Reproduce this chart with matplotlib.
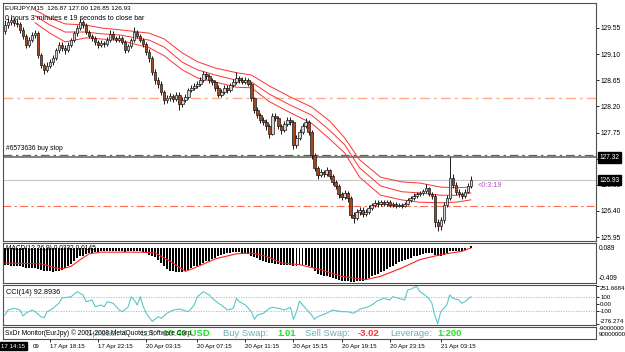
import matplotlib
matplotlib.use("Agg")
import matplotlib.pyplot as plt

plt.rcParams["font.family"] = ["Liberation Sans", "DejaVu Sans"]

W, H = 625, 352

# --- EURJPY M15 candles ---
first_open = 129.50
closes = [129.60, 129.65, 129.69, 129.64, 129.62, 129.52, 129.41, 129.26, 129.34, 129.43,
          129.46, 129.09, 128.91, 128.83, 128.90, 128.96, 129.03, 129.17, 129.26, 129.21,
          129.17, 129.26, 129.34, 129.46, 129.55, 129.65, 129.60, 129.48, 129.41, 129.38,
          129.31, 129.26, 129.29, 129.27, 129.34, 129.45, 129.38, 129.34, 129.38, 129.31,
          129.17, 129.24, 129.34, 129.48, 129.41, 129.34, 129.27, 129.14, 129.03, 128.79,
          128.65, 128.59, 128.45, 128.31, 128.34, 128.38, 128.33, 128.40, 128.24, 128.31,
          128.36, 128.48, 128.52, 128.55, 128.59, 128.65, 128.76, 128.72, 128.65, 128.62,
          128.52, 128.40, 128.45, 128.52, 128.48, 128.57, 128.62, 128.69, 128.65, 128.62,
          128.65, 128.59, 128.34, 128.14, 128.05, 127.97, 127.93, 127.86, 127.72, 128.03,
          128.00, 127.86, 127.79, 127.90, 127.97, 127.93, 127.54, 127.66, 127.76, 127.86,
          127.93, 127.76, 127.36, 127.14, 127.02, 127.07, 127.04, 127.10, 127.00, 126.90,
          126.83, 126.69, 126.64, 126.71, 126.62, 126.33, 126.28, 126.38, 126.42, 126.35,
          126.38, 126.45, 126.50, 126.54, 126.52, 126.55, 126.52, 126.55, 126.50, 126.52,
          126.48, 126.50, 126.48, 126.52, 126.59, 126.62, 126.66, 126.69, 126.71, 126.74,
          126.79, 126.69, 126.66, 126.21, 126.14, 126.24, 126.50, 126.62, 126.97, 126.85,
          126.73, 126.69, 126.66, 126.73, 126.83, 126.93]
highs = [129.68, 129.72, 129.74, 129.73, 129.70, 129.66, 129.56, 129.45, 129.39, 129.48,
         129.52, 129.50, 129.12, 128.95, 128.96, 129.02, 129.08, 129.21, 129.30, 129.31,
         129.25, 129.30, 129.38, 129.50, 129.60, 129.72, 129.69, 129.63, 129.52, 129.45,
         129.42, 129.35, 129.34, 129.33, 129.39, 129.52, 129.49, 129.42, 129.43, 129.41,
         129.34, 129.28, 129.38, 129.56, 129.52, 129.45, 129.38, 129.30, 129.18, 129.06,
         128.84, 128.70, 128.63, 128.49, 128.40, 128.43, 128.42, 128.45, 128.44, 128.36,
         128.41, 128.52, 128.56, 128.60, 128.64, 128.70, 128.81, 128.80, 128.76, 128.69,
         128.66, 128.56, 128.50, 128.56, 128.57, 128.61, 128.67, 128.80, 128.73, 128.70,
         128.71, 128.69, 128.62, 128.37, 128.19, 128.09, 128.02, 127.98, 127.90, 128.08,
         128.08, 128.04, 127.90, 127.95, 128.02, 128.01, 127.96, 127.71, 127.81, 127.91,
         128.00, 127.97, 127.79, 127.40, 127.18, 127.12, 127.11, 127.15, 127.13, 127.04,
         126.94, 126.87, 126.73, 126.76, 126.75, 126.65, 126.38, 126.43, 126.47, 126.46,
         126.43, 126.50, 126.54, 126.58, 126.58, 126.59, 126.59, 126.59, 126.58, 126.56,
         126.55, 126.53, 126.53, 126.55, 126.63, 126.66, 126.70, 126.73, 126.75, 126.78,
         126.86, 126.82, 126.73, 126.69, 126.26, 126.30, 126.55, 126.67, 127.32, 127.03,
         126.89, 126.77, 126.72, 126.78, 126.88, 127.00]
lows = [129.45, 129.55, 129.60, 129.58, 129.56, 129.47, 129.36, 129.20, 129.22, 129.30,
        129.38, 129.04, 128.86, 128.76, 128.79, 128.86, 128.92, 129.00, 129.12, 129.16,
        129.10, 129.13, 129.22, 129.31, 129.42, 129.52, 129.55, 129.44, 129.37, 129.33,
        129.26, 129.21, 129.22, 129.22, 129.24, 129.31, 129.34, 129.30, 129.31, 129.27,
        129.12, 129.14, 129.21, 129.31, 129.37, 129.30, 129.23, 129.09, 128.97, 128.74,
        128.58, 128.52, 128.39, 128.24, 128.26, 128.29, 128.27, 128.29, 128.14, 128.19,
        128.27, 128.33, 128.44, 128.48, 128.51, 128.55, 128.62, 128.67, 128.60, 128.57,
        128.46, 128.36, 128.37, 128.42, 128.43, 128.44, 128.53, 128.58, 128.60, 128.58,
        128.58, 128.55, 128.29, 128.08, 128.00, 127.92, 127.88, 127.80, 127.66, 127.70,
        127.95, 127.81, 127.73, 127.76, 127.87, 127.88, 127.46, 127.48, 127.62, 127.72,
        127.83, 127.70, 127.30, 127.08, 126.95, 126.98, 126.99, 127.00, 126.95, 126.85,
        126.78, 126.63, 126.58, 126.60, 126.56, 126.27, 126.20, 126.24, 126.33, 126.30,
        126.31, 126.34, 126.41, 126.46, 126.47, 126.48, 126.48, 126.49, 126.46, 126.47,
        126.45, 126.46, 126.45, 126.46, 126.50, 126.56, 126.59, 126.63, 126.66, 126.68,
        126.70, 126.65, 126.61, 126.12, 126.06, 126.08, 126.20, 126.46, 126.58, 126.80,
        126.68, 126.64, 126.61, 126.63, 126.70, 126.80]
opens = [first_open] + closes[:-1]

# moving average with its two envelope lines (sampled along the curve)
ma_idx = [10, 15, 20, 27, 32, 38, 48, 53, 59, 64, 70, 77, 82, 88, 95, 102, 108, 113,
          118, 125, 132, 138, 145, 150, 155]
ma_upper = [129.86, 129.72, 129.62, 129.60, 129.55, 129.52, 129.46, 129.36, 129.12, 128.97,
            128.86, 128.78, 128.74, 128.55, 128.36, 128.19, 127.95, 127.66, 127.28, 126.98,
            126.90, 126.88, 126.81, 126.80, 126.81]
ma_mid = [129.76, 129.60, 129.48, 129.48, 129.45, 129.43, 129.34, 129.22, 128.96, 128.83,
          128.74, 128.65, 128.62, 128.41, 128.22, 128.05, 127.79, 127.54, 127.14, 126.83,
          126.73, 126.71, 126.67, 126.67, 126.71]
ma_lower = [129.64, 129.46, 129.31, 129.38, 129.36, 129.34, 129.21, 129.07, 128.83, 128.69,
            128.62, 128.53, 128.52, 128.28, 128.09, 127.91, 127.64, 127.40, 126.98, 126.67,
            126.59, 126.55, 126.54, 126.55, 126.59]

# horizontal levels
level_orange = 128.34
level_buystop = 127.37
level_high = 127.32
level_bid = 126.93
level_red = 126.48

price_ticks = [129.55, 129.10, 128.65, 128.20, 127.75, 127.30, 126.85, 126.40, 125.95]

# MACD(12,26,9)
macd = [-0.20, -0.20, -0.21, -0.21, -0.22, -0.22, -0.23, -0.24, -0.24, -0.24,
        -0.24, -0.25, -0.26, -0.27, -0.27, -0.28, -0.29, -0.28, -0.27, -0.26,
        -0.24, -0.22, -0.19, -0.16, -0.12, -0.10, -0.09, -0.07, -0.06, -0.06,
        -0.05, -0.05, -0.04, -0.04, -0.04, -0.03, -0.04, -0.04, -0.04, -0.04,
        -0.05, -0.04, -0.03, -0.03, -0.04, -0.04, -0.05, -0.06, -0.08, -0.09,
        -0.11, -0.14, -0.18, -0.22, -0.25, -0.27, -0.28, -0.29, -0.29, -0.29,
        -0.28, -0.26, -0.24, -0.22, -0.21, -0.20, -0.18, -0.16, -0.15, -0.13,
        -0.12, -0.10, -0.08, -0.07, -0.06, -0.06, -0.05, -0.05, -0.05, -0.06,
        -0.06, -0.07, -0.09, -0.11, -0.12, -0.14, -0.15, -0.17, -0.18, -0.18,
        -0.19, -0.19, -0.20, -0.20, -0.20, -0.20, -0.21, -0.21, -0.20, -0.20,
        -0.20, -0.21, -0.24, -0.28, -0.31, -0.32, -0.33, -0.34, -0.35, -0.36,
        -0.37, -0.38, -0.39, -0.39, -0.40, -0.41, -0.41, -0.40, -0.40, -0.39,
        -0.37, -0.36, -0.34, -0.32, -0.31, -0.29, -0.27, -0.25, -0.23, -0.21,
        -0.19, -0.17, -0.16, -0.14, -0.13, -0.12, -0.10, -0.09, -0.08, -0.07,
        -0.06, -0.06, -0.06, -0.08, -0.09, -0.09, -0.08, -0.06, -0.04, -0.03,
        -0.03, -0.03, -0.03, -0.02, 0.00, 0.02]
sig_idx = [0, 12, 17, 19, 22, 25, 28, 32, 45, 50, 55, 60, 63, 70, 77, 82, 87, 92,
           98, 105, 112, 120, 125, 132, 138, 145, 152, 155]
signal = [-0.18, -0.19, -0.24, -0.25, -0.22, -0.14, -0.07, -0.05, -0.05, -0.06,
          -0.16, -0.28, -0.24, -0.13, -0.07, -0.06, -0.10, -0.18, -0.20, -0.26,
          -0.34, -0.38, -0.34, -0.24, -0.14, -0.08, -0.04, 0.00]

# CCI(14)
cci_idx = [0, 1, 3, 5, 6, 7, 9, 10, 12, 13, 14, 16, 18, 19, 22, 24, 26, 27, 29, 30,
           32, 33, 34, 36, 38, 39, 41, 42, 43, 44, 45, 46, 47, 49, 51, 52, 54, 56, 58, 61,
           63, 64, 66, 68, 69, 71, 72, 74, 76, 77, 78, 80, 82, 83, 84, 86, 88, 89, 91, 93,
           95, 96, 97, 98, 100, 102, 103, 104, 107, 109, 112, 114, 116, 118, 121, 122, 124, 126, 128, 129,
           131, 133, 134, 135, 137, 138, 139, 141, 142, 143, 144, 145, 147, 148, 149, 151, 152, 153, 155]
cci = [-154, -84, -60, -84, -168, -126, -84, -108, -178, -192, -108, -60, 14, 84, 102, 172, 126, 32, 56, -38,
       -14, -38, 32, 10, -84, -108, -38, 102, 56, -14, 102, -38, -126, -245, -178, -200, -126, -84, -70, -108,
       -14, 102, 172, 126, 80, 10, -14, -84, -60, 80, 32, -14, -108, -214, -154, -130, -60, -46, -60, -84,
       -46, -214, -108, 40, -60, -154, -214, -178, -130, -84, -108, -108, -130, -74, -38, -14, 46, 80, 56, 102,
       80, 56, 196, 206, 251, 172, 150, 80, 18, -154, -276, -108, -14, 126, 80, 56, 10, 32, 102]
cci_ticks = [251.6684, 100, 0, -100, -276.274]
cci_tick_labels = ["251.6684", "100", "0.00", "-100", "-276.274"]

time_idx = [15, 31, 47, 64, 80, 96, 112, 128, 145]
time_labels = ["17 Apr 18:15", "17 Apr 22:15", "20 Apr 03:15", "20 Apr 07:15", "20 Apr 11:15",
               "20 Apr 15:15", "20 Apr 19:15", "20 Apr 23:15", "21 Apr 03:15"]

XMIN, XMAX = -0.67, 196.67
SPINE = "#505050"


def rect(top, bottom, left=3, right=596):
    """pixel box -> figure fraction [l, b, w, h]"""
    return [left / W, 1 - bottom / H, (right - left) / W, (bottom - top) / H]


def fx(x):
    return x / W


def fy(y):
    return 1 - y / H


def style(ax, labelsize=4.8):
    for s in ax.spines.values():
        s.set_color(SPINE)
        s.set_linewidth(0.8)
    ax.set_xlim(XMIN, XMAX)
    ax.set_xticks([])
    ax.yaxis.tick_right()
    ax.tick_params(axis="y", length=2, width=0.6, pad=1, labelsize=labelsize, colors="black")


fig = plt.figure(figsize=(W / 100, H / 100), dpi=100)
fig.patch.set_facecolor("white")

# ---------------- main price panel ----------------
ax = fig.add_axes(rect(3, 241))
style(ax)
ax.set_ylim(125.882, 129.980)
ax.set_yticks(price_ticks)
ax.set_yticklabels([f"{v:.2f}" for v in price_ticks])

dash_dot = (0, (7, 3, 2, 3))
ax.axhline(level_orange, color="#ffaa88", lw=1.0, ls=dash_dot, zorder=1)
ax.axhline(level_red, color="#ff6a50", lw=0.8, ls=dash_dot, zorder=1)
ax.axhline(level_buystop, color="#119911", lw=0.9, ls=dash_dot, zorder=1)
ax.axhline(level_high, color="#808080", lw=1.4, zorder=1)
ax.axhline(level_bid, color="#c8c8c8", lw=0.8, zorder=1)

for series in (ma_upper, ma_mid, ma_lower):
    ax.plot(ma_idx, series, color="#ff3030", lw=0.7, zorder=2)

idx = list(range(len(closes)))
ax.vlines(idx, lows, highs, color="#181818", lw=0.7, zorder=3)
bottoms = [min(o, c) for o, c in zip(opens, closes)]
heights = [max(abs(c - o), 0.008) for o, c in zip(opens, closes)]
colors = ["#d4d4d4" if c >= o else "#a8471f" for o, c in zip(opens, closes)]
ax.bar(idx, heights, bottom=bottoms, width=0.8, color=colors, edgecolor="#181818",
       linewidth=0.5, zorder=4)

fig.text(fx(5), fy(8), "EURJPY,M15  126.87 127.00 126.85 126.93", fontsize=4.6, va="center")
fig.text(fx(5), fy(18), "0 hours 3 minutes e 19 seconds to close bar", fontsize=5.0, va="center")
fig.text(fx(6), fy(149), "#6573636 buy stop", fontsize=4.8, va="center")
ax.text(155 + 2.3, 126.84, "<0:3:19", fontsize=5.2, color="#b050c0", va="center")

for lvl, lab in ((level_high, "127.32"), (level_bid, "126.93")):
    ax.annotate(lab, xy=(1, lvl), xycoords=("axes fraction", "data"), xytext=(2.5, 0),
                textcoords="offset points", fontsize=4.8, color="white", va="center",
                bbox=dict(boxstyle="square,pad=0.25", fc="black", ec="black"),
                annotation_clip=False, zorder=10)

# ---------------- MACD panel ----------------
axm = fig.add_axes(rect(243, 283))
style(axm)
axm.set_ylim(-0.42, 0.06)
axm.set_yticks([])
axm.text(0.005, 0.86, "MACD(12,26,9) 0.0332 0.0145", transform=axm.transAxes,
         fontsize=4.8, va="center", zorder=0)
axm.bar(idx, macd, width=0.66, color="black", zorder=2)
axm.plot(sig_idx, signal, color="#ff2020", lw=0.8, zorder=3)
fig.text(fx(599), fy(249), "0.089", fontsize=4.8, va="center")
fig.text(fx(599), fy(278), "-0.409", fontsize=4.8, va="center")

# ---------------- CCI panel ----------------
axc = fig.add_axes(rect(285, 325))
style(axc, labelsize=4.4)
axc.set_ylim(-294, 266)
axc.set_yticks(cci_ticks)
axc.set_yticklabels(cci_tick_labels)
tl = axc.get_yticklabels()
tl[0].set_va("top")
tl[-1].set_va("bottom")
for lvl in (100, -100):
    axc.axhline(lvl, color="#b0b0b0", lw=0.6, ls=(0, (1.5, 1.5)), zorder=1)
axc.plot(cci_idx, cci, color="#5cc6c8", lw=0.8, zorder=2)
axc.text(0.005, 0.82, "CCI(14) 92.8936", transform=axc.transAxes, fontsize=5.2, va="center")

# ---------------- info panel + time axis ----------------
axi = fig.add_axes(rect(327, 339))
style(axi)
axi.set_ylim(0, 1)
axi.set_yticks([])
axi.set_xticks(time_idx)
axi.set_xticklabels(time_labels, ha="left")
axi.tick_params(axis="x", length=2, width=0.6, pad=1.5, labelsize=4.4)

fig.text(fx(599), fy(328.5), "-9000000", fontsize=4.4, va="center")
fig.text(fx(599), fy(335), "90000000", fontsize=4.4, va="center")

teal = "#6aaeb8"
green = "#22e022"
fig.text(fx(86), fy(333), "Spread: 4", fontsize=6.8, color=teal, va="center")
fig.text(fx(140), fy(333), "Lot:", fontsize=6.8, color=teal, va="center")
fig.text(fx(163), fy(333), "10.49 USD", fontsize=6.8, color=green, va="center", weight="bold")
fig.text(fx(5), fy(333), "SxDr Monitor(EurJpy) \u00a9 2001-2008 MetaQuotes Software Corp.",
         fontsize=4.8, color="black", va="center")
fig.text(fx(223), fy(333), "Buy Swap:", fontsize=6.8, color=teal, va="center")
fig.text(fx(277), fy(333), "1.01", fontsize=6.8, color=green, va="center", weight="bold")
fig.text(fx(305), fy(333), "Sell Swap:", fontsize=6.8, color=teal, va="center")
fig.text(fx(358), fy(333), "-3.02", fontsize=6.8, color="#ff3030", va="center", weight="bold")
fig.text(fx(390), fy(333), "Leverage:", fontsize=6.8, color=teal, va="center")
fig.text(fx(437), fy(333), "1:200", fontsize=6.8, color=green, va="center", weight="bold")

fig.text(fx(1.5), fy(346), "17 14:15", fontsize=4.4, color="white", va="center",
         bbox=dict(boxstyle="square,pad=0.25", fc="black", ec="black"))
fig.text(fx(33), fy(346), "09", fontsize=4.4, va="center")

fig.savefig("out.png", dpi=100, facecolor="white")
